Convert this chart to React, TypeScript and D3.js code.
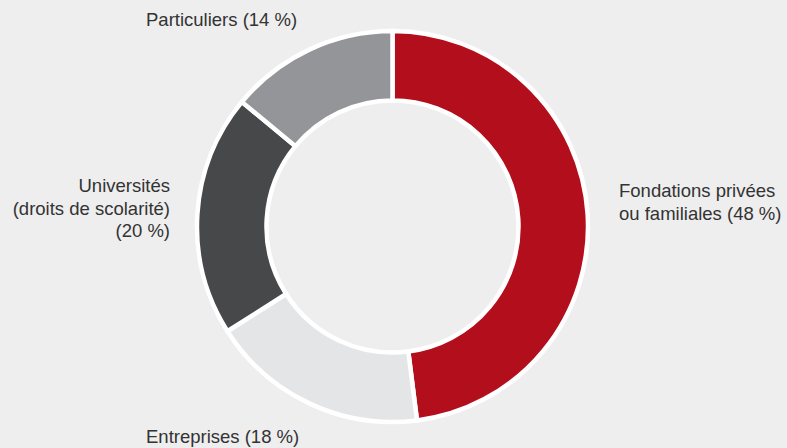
import { useMemo } from 'react'
import * as d3 from 'd3'

const categories = ['Fondations privées ou familiales', 'Entreprises', 'Universités (droits de scolarité)', 'Particuliers']
const shares = [48, 18, 20, 14]
const colors = ['#b30e1c', '#e4e5e7', '#47484a', '#939598']

// label lines per slice (as printed in the source)
const labelLines = [
  ['Fondations privées', 'ou familiales (48 %)'],
  ['Entreprises (18 %)'],
  ['Universités', '(droits de scolarité)', '(20 %)'],
  ['Particuliers (14 %)'],
]

const W = 787
const H = 448

// where each label block sits (layout only)
const labelLayout = [
  { x: 619, y: 197, anchor: 'start' },
  { x: 146, y: 443, anchor: 'start' },
  { x: 170, y: 192, anchor: 'end' },
  { x: 146, y: 26, anchor: 'start' },
]

export default function App() {
  const cx = 392.5
  const cy = 226.5
  const outer = 195.5
  const inner = 126

  const arcs = useMemo(() => {
    const pie = d3
      .pie<number>()
      .sort(null)
      .value((d: number) => d)
    const arcGen = d3.arc<d3.PieArcDatum<number>>().innerRadius(inner).outerRadius(outer)
    return pie(shares).map((a: d3.PieArcDatum<number>, i: number) => ({
      path: arcGen(a) || '',
      fill: colors[i],
      key: categories[i],
    }))
  }, [])

  return (
    <svg
      width={W}
      height={H}
      style={{ position: 'absolute', left: 0, top: 0, background: '#eeeeee' }}
      fontFamily="'Liberation Sans', Arial, Helvetica, sans-serif"
    >
      <rect width={W} height={H} fill="#eeeeee" />
      <g transform={`translate(${cx},${cy})`}>
        {arcs.map((a) => (
          <path key={a.key} d={a.path} fill={a.fill} stroke="#ffffff" strokeWidth={4.5} strokeLinejoin="miter" />
        ))}
      </g>
      {labelLines.map((lines, i) => {
        const lay = labelLayout[i]
        return (
          <text
            key={categories[i]}
            x={lay.x}
            y={lay.y}
            textAnchor={lay.anchor}
            fontSize={18.5}
            fill="#333333"
          >
            {lines.map((l, j) => (
              <tspan key={j} x={lay.x} dy={j === 0 ? 0 : 22.5}>
                {l}
              </tspan>
            ))}
          </text>
        )
      })}
    </svg>
  )
}
